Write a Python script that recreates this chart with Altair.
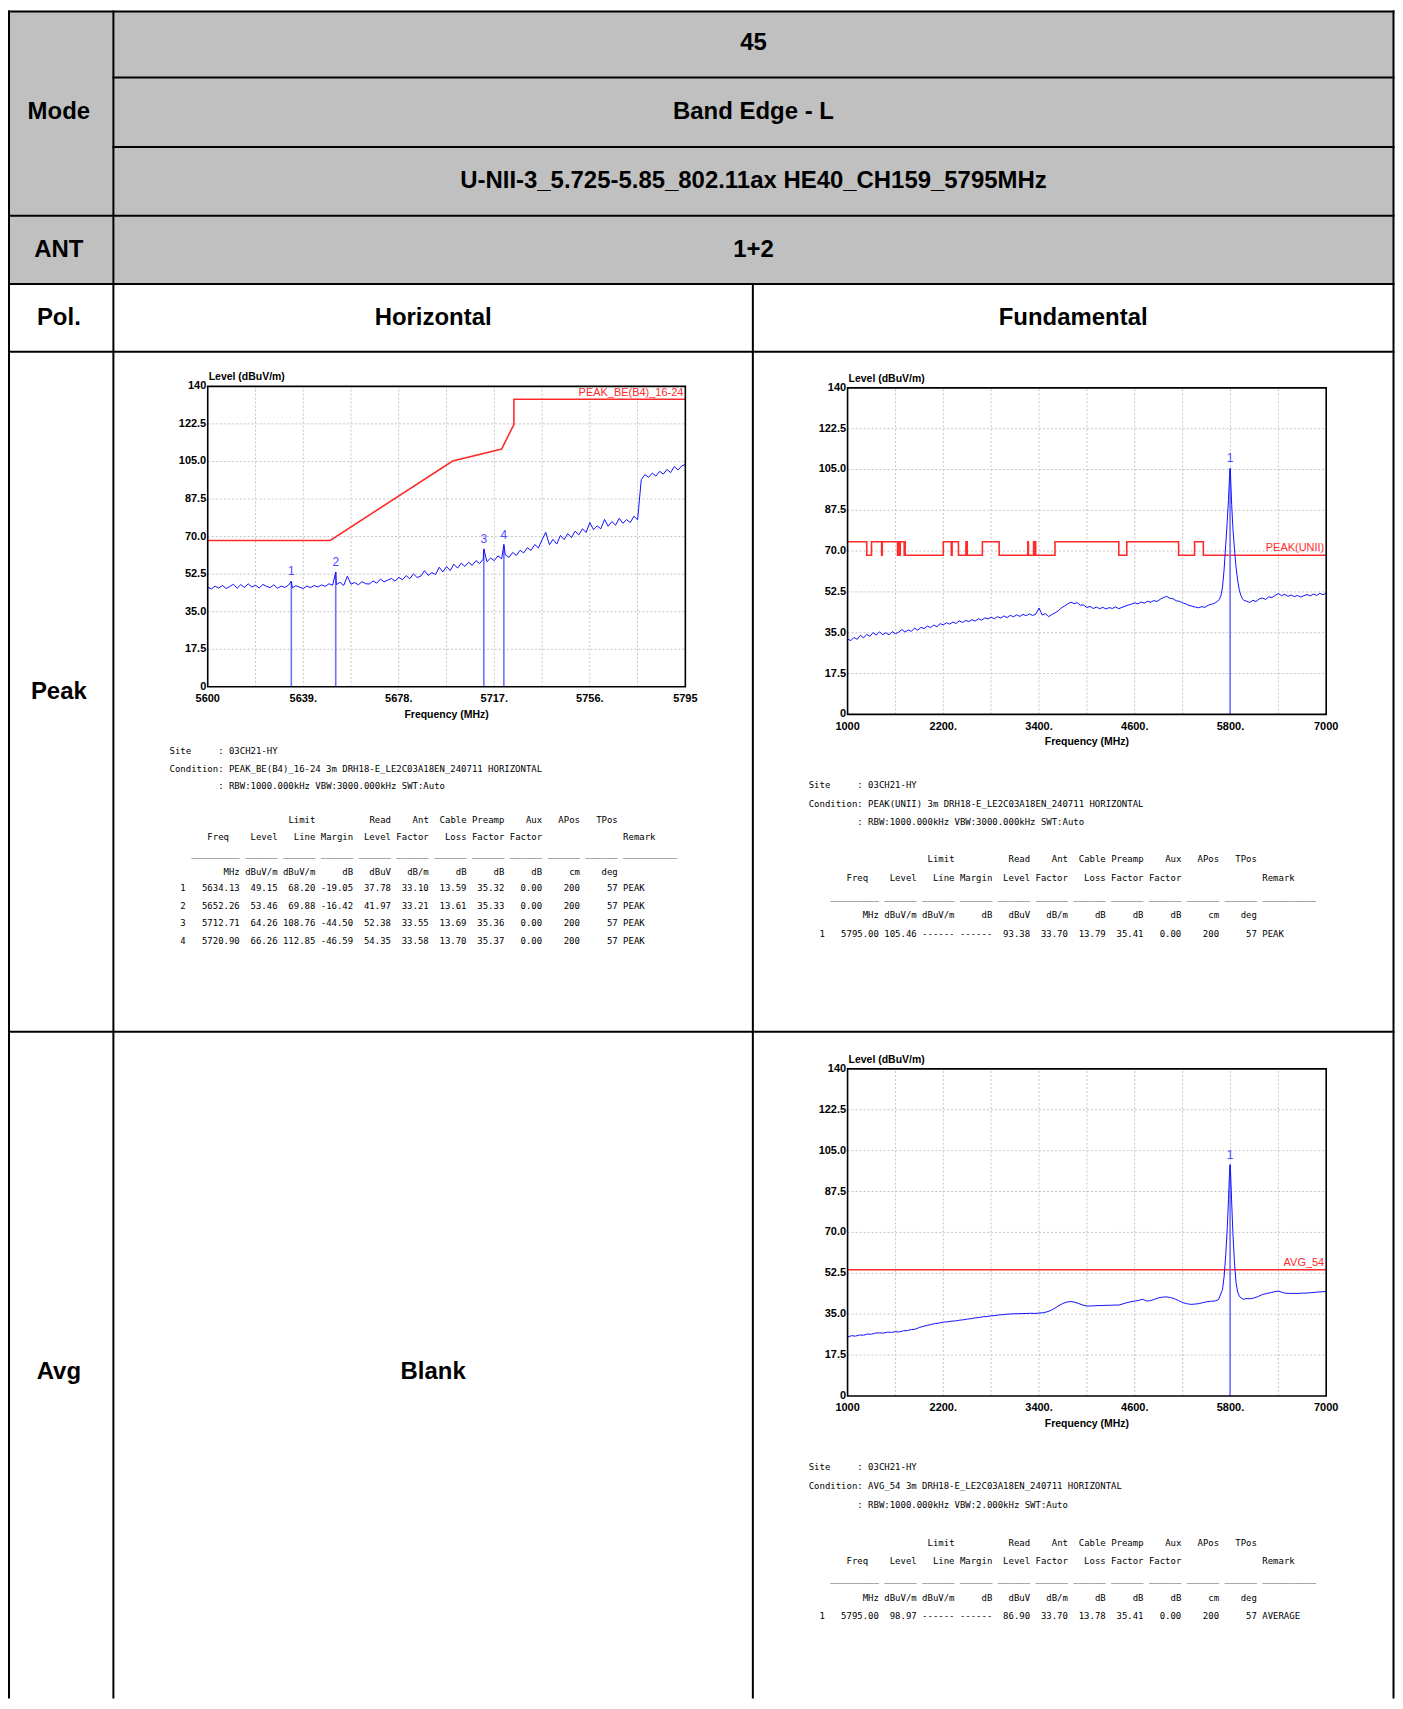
import altair as alt
import numpy as np
import pandas as pd

# ------------------------------------------------------------------ table text
mode_title = "Mode"
mode_lines = ["45", "Band Edge - L", "U-NII-3_5.725-5.85_802.11ax HE40_CH159_5795MHz"]
ant_title, ant_value = "ANT", "1+2"
pol_title = "Pol."
pol_values = ["Horizontal", "Fundamental"]
det_titles = ["Peak", "Avg"]
blank_text = "Blank"

# ------------------------------------------------------------------ axes
level_ticks = [0, 17.5, 35, 52.5, 70, 87.5, 105, 122.5, 140]
level_tick_labels = ["0", "17.5", "35.0", "52.5", "70.0", "87.5", "105.0", "122.5", "140"]

be_ticks = [5600, 5639, 5678, 5717, 5756, 5795]
be_tick_labels = ["5600", "5639.", "5678.", "5717.", "5756.", "5795"]
be_grid = [5619.5, 5639, 5658.5, 5678, 5697.5, 5717, 5736.5, 5756, 5775.5]

fd_ticks = [1000, 2200, 3400, 4600, 5800, 7000]
fd_tick_labels = ["1000", "2200.", "3400.", "4600.", "5800.", "7000"]
fd_grid = [1600, 2200, 2800, 3400, 4000, 4600, 5200, 5800, 6400]

# ------------------------------------------------------------------ plot 1 : band edge, peak, horizontal
p1_sweep_start, p1_sweep_step = 5600.0, 1.5
p1_level = [
    46.4, 45.6, 46.9, 46.0, 47.2, 45.8, 46.7, 47.8, 45.9, 47.6,
    46.3, 48.0, 46.5, 47.3, 46.0, 47.7, 46.8, 46.2, 47.5, 45.9,
    46.9, 46.3, 47.4, 46.1, 47.1, 46.4, 45.8, 46.9, 46.2, 47.2,
    46.5, 47.5, 46.8, 48.0, 47.3, 47.6, 48.7, 47.2, 51.5, 47.8,
    48.6, 47.5, 49.0, 48.0, 47.9, 49.3, 48.3, 50.2, 48.9, 49.7,
    50.5, 49.2, 51.0, 49.9, 51.8, 50.3, 52.6, 50.9, 51.6, 54.1,
    51.9, 53.2, 52.3, 55.7, 53.5, 56.0, 54.2, 57.1, 55.3, 57.6,
    56.1, 58.0, 56.6, 58.8, 57.4, 59.5, 58.3, 60.0, 58.8, 61.0,
    59.6, 61.5, 60.3, 62.6, 61.2, 63.6, 62.4, 64.8, 63.5, 66.3,
    64.7, 68.5, 72.0, 66.2, 68.7, 66.5, 70.5, 68.6, 71.4, 69.5,
    72.5, 70.8, 73.6, 71.9, 76.5, 73.2, 75.0, 73.6, 78.0, 74.8,
    77.0, 75.3, 78.5, 76.2, 77.9, 76.5, 79.5, 77.8, 96.5, 98.9,
    97.6, 99.6, 98.2, 100.4, 99.1, 101.3, 99.8, 102.6, 101.0, 102.9,
    103.6,
]
p1_limit_freq = [5600, 5650, 5700, 5720, 5725, 5725, 5795]
p1_limit_level = [68.2, 68.2, 105.2, 110.8, 122.2, 134.0, 134.0]
p1_limit_name = "PEAK_BE(B4)_16-24"

m1_idx = [1, 2, 3, 4]
m1_freq = [5634.13, 5652.26, 5712.71, 5720.90]
m1_level = [49.15, 53.46, 64.26, 66.26]
m1_limit = [68.20, 69.88, 108.76, 112.85]
m1_margin = [-19.05, -16.42, -44.50, -46.59]
m1_read = [37.78, 41.97, 52.38, 54.35]
m1_ant = [33.10, 33.21, 33.55, 33.58]
m1_cable = [13.59, 13.61, 13.69, 13.70]
m1_pre = [35.32, 35.33, 35.36, 35.37]
m1_aux = [0.00, 0.00, 0.00, 0.00]
m1_apos = [200, 200, 200, 200]
m1_tpos = [57, 57, 57, 57]
m1_remark = ["PEAK", "PEAK", "PEAK", "PEAK"]
m1_site = "03CH21-HY"
m1_cond = "PEAK_BE(B4)_16-24 3m DRH18-E_LE2C03A18EN_240711 HORIZONTAL"
m1_rbw = "RBW:1000.000kHz VBW:3000.000kHz SWT:Auto"

# ------------------------------------------------------------------ plot 2 : fundamental, peak
p2_main_start, p2_main_step = 1000, 40
p2_main_level = [
    32.4, 31.6, 33.0, 32.2, 33.9, 32.8, 34.3, 33.5, 35.1, 34.0,
    35.4, 34.2, 35.0, 34.1, 35.5, 34.6, 35.2, 36.4, 35.3, 36.2,
    35.6, 37.0, 36.1, 37.3, 36.8, 37.9, 37.2, 38.3, 37.6, 38.9,
    38.4, 39.3, 38.7, 39.6, 39.0, 40.1, 39.4, 40.3, 39.8, 40.6,
    40.0, 41.0, 40.4, 41.4, 40.9, 41.7, 41.0, 41.9, 41.3, 42.2,
    41.5, 42.5, 41.8, 42.7, 42.0, 42.9, 42.3, 43.1, 42.4, 43.0,
    45.6, 42.6, 43.2, 41.9, 42.8, 43.5, 44.4, 45.6, 46.5, 47.4,
    48.1, 47.5, 47.9, 46.8, 46.9, 45.8, 46.3, 45.4, 46.0, 45.3,
    45.9, 45.2, 45.8, 45.4, 46.1, 45.3, 45.9, 46.4, 46.9, 47.3,
    47.8, 47.4, 48.2, 47.7, 48.5, 48.1, 48.8, 48.4, 49.4, 50.1,
    50.6, 49.8, 49.6, 48.7, 48.5, 47.8, 47.4, 46.7, 46.4, 46.0,
    45.7, 46.2, 45.9, 46.8, 47.2, 47.6, 48.6,
]
p2_peak_freq = [5660, 5680, 5700, 5720, 5740, 5760, 5775, 5785, 5790, 5795, 5800,
                5805, 5815, 5830, 5850, 5870, 5890, 5910, 5930, 5950, 5970]
p2_peak_level = [49.3, 50.8, 54.5, 62.0, 72.5, 83.0, 92.0, 99.5, 103.0, 105.46, 103.5,
                 99.0, 90.0, 80.0, 71.0, 63.0, 57.5, 53.5, 51.0, 49.6, 48.8]
p2_tail_start, p2_tail_step = 6000, 40
p2_tail_level = [
    48.6, 48.0, 48.9, 48.4, 49.5, 49.9, 49.3, 50.4, 50.1, 51.0,
    51.8, 50.9, 51.5, 50.6, 51.2, 50.5, 51.0, 50.3, 50.9, 51.4,
    50.8, 51.6, 51.0, 51.9, 51.3, 52.0,
]
p2_limit_edges = [1000, 1240, 1300, 1427, 1435, 1626.5, 1645.5, 1646.5, 1660, 1710, 1718.8,
                  1722.2, 2200, 2300, 2310, 2390, 2483.5, 2500, 2690, 2900, 3260, 3267,
                  3332, 3339, 3345.8, 3358, 3600, 4400, 4500, 5150, 5350, 5460, 7000]
p2_limit_levels = [74, 68.2, 74, 68.2, 74, 68.2, 74, 68.2, 74, 68.2, 74, 68.2, 74, 68.2, 74, 68.2,
                   74, 68.2, 74, 68.2, 74, 68.2, 74, 68.2, 74, 68.2, 74, 68.2, 74, 68.2, 74, 68.2]
p2_limit_name = "PEAK(UNII)"

m2 = dict(idx=[1], freq=[5795.00], level=[105.46], limit=["------"], margin=["------"],
          read=[93.38], ant=[33.70], cable=[13.79], pre=[35.41], aux=[0.00], apos=[200],
          tpos=[57], remark=["PEAK"])
m2_cond = "PEAK(UNII) 3m DRH18-E_LE2C03A18EN_240711 HORIZONTAL"
m2_rbw = "RBW:1000.000kHz VBW:3000.000kHz SWT:Auto"

# ------------------------------------------------------------------ plot 3 : fundamental, average
p3_main_start, p3_main_step = 1000, 50
p3_main_level = [
    25.2, 25.8, 25.6, 26.1, 26.0, 26.5, 26.4, 26.9, 27.0, 26.9,
    27.3, 27.2, 27.5, 27.4, 27.9, 28.0, 28.4, 28.6, 29.3, 29.8,
    30.2, 30.6, 31.0, 31.2, 31.6, 31.7, 32.0, 32.1, 32.4, 32.6,
    32.9, 33.1, 33.4, 33.6, 33.9, 34.0, 34.3, 34.4, 34.7, 34.8,
    35.0, 35.1, 35.2, 35.2, 35.3, 35.3, 35.4, 35.3, 35.5, 35.6,
    36.0, 36.6, 37.6, 38.7, 39.6, 40.2, 40.4, 40.1, 39.5, 38.9,
    38.5, 38.5, 38.6, 38.7, 38.7, 38.8, 38.8, 38.9, 38.9, 39.4,
    39.9, 40.3, 40.6, 40.9, 41.4, 40.6, 40.8, 41.4, 42.0, 42.3,
    42.4, 42.1, 41.6, 40.8, 40.0, 39.5, 39.2, 39.3, 39.5, 39.9,
    40.3, 40.5, 40.6, 41.2,
]
p3_peak_freq = [5700, 5720, 5740, 5760, 5775, 5785, 5790, 5795, 5800, 5805, 5815,
                5830, 5850, 5870, 5890, 5910, 5930, 5950, 5970]
p3_peak_level = [45.5, 51.0, 60.0, 72.0, 84.0, 93.0, 97.0, 98.97, 97.0, 92.5, 83.0,
                 70.0, 57.0, 48.5, 44.5, 42.8, 42.0, 41.6, 41.4]
p3_tail_start, p3_tail_step = 6000, 50
p3_tail_level = [41.7, 41.6, 42.0, 42.6, 43.4, 43.8, 44.2, 44.6, 44.9, 44.3, 43.9,
                 43.9, 43.9, 43.9, 44.0, 44.0, 44.2, 44.3, 44.5, 44.6, 44.7]
p3_limit_freq = [1000, 7000]
p3_limit_level = [54, 54]
p3_limit_name = "AVG_54"

m3 = dict(idx=[1], freq=[5795.00], level=[98.97], limit=["------"], margin=["------"],
          read=[86.90], ant=[33.70], cable=[13.78], pre=[35.41], aux=[0.00], apos=[200],
          tpos=[57], remark=["AVERAGE"])
m3_cond = "AVG_54 3m DRH18-E_LE2C03A18EN_240711 HORIZONTAL"
m3_rbw = "RBW:1000.000kHz VBW:2.000kHz SWT:Auto"

# ------------------------------------------------------------------ layout (page pixels)
OFF = 8
CW, CH = 1391, 1692
T_LEFT, T_COL1, T_COL2, T_RIGHT = 9.0, 113.7, 755.0, 1397.5
T_ROWS = [9.0, 75.3, 145.0, 214.0, 282.3, 350.3, 1032.3]
T_BOTTOM = OFF + CH

BOX1 = (208.3, 687.3, 385.0, 686.3)   # left, right, top, bottom
BOX2 = (850.0, 1330.0, 386.5, 714.0)
BOX3 = (850.0, 1330.0, 1069.5, 1397.5)

HEAD_FONT = "Liberation Sans"
AX_FONT = "Liberation Sans"
MONO_FONT = "DejaVu Sans Mono"
MONO_SIZE = 9
CHAR_W = MONO_SIZE * 0.602
GRID = "#c4c4c4"
TRACE = "#1010ff"
MARK = "#7070ff"
RED = "#ff2a2a"

pxx = alt.Scale(domain=[OFF, OFF + CW], range=[0, CW], nice=False, zero=False)
pxy = alt.Scale(domain=[OFF, OFF + CH], range=[0, CH], nice=False, zero=False)


def PX(f):
    return alt.X(f, scale=pxx, axis=None)


def PY(f):
    return alt.Y(f, scale=pxy, axis=None)


# ------------------------------------------------------------------ table layer
gray = pd.DataFrame({"x0": [T_LEFT], "x1": [T_RIGHT], "y0": [T_ROWS[0]], "y1": [T_ROWS[4]]})
hl = pd.DataFrame({
    "x0": [T_LEFT, T_COL1, T_COL1, T_LEFT, T_LEFT, T_LEFT, T_LEFT],
    "x1": [T_RIGHT] * 7,
    "y": T_ROWS,
})
vl = pd.DataFrame({
    "x": [T_LEFT, T_COL1, T_COL2, T_RIGHT],
    "y0": [T_ROWS[0], T_ROWS[0], T_ROWS[4], T_ROWS[0]],
    "y1": [T_BOTTOM] * 4,
})
c_left = (4.3 + T_COL1) / 2
c_all = (T_COL1 + T_RIGHT) / 2
c_mid = (T_COL1 + T_COL2) / 2
c_right = (T_COL2 + T_RIGHT) / 2
cells = pd.DataFrame([
    (c_left, 110.2, mode_title),
    (c_all, 40.8, mode_lines[0]),
    (c_all, 110.2, mode_lines[1]),
    (c_all, 179.5, mode_lines[2]),
    (c_left, 248.2, ant_title),
    (c_all, 248.2, ant_value),
    (c_left, 316.3, pol_title),
    (c_mid, 316.3, pol_values[0]),
    (c_right, 316.3, pol_values[1]),
    (c_left, 691.3, det_titles[0]),
    (c_left, 1373.5, det_titles[1]),
    (c_mid, 1373.5, blank_text),
], columns=["x", "y", "t"])


def header_lines(cond, rbw):
    h1 = " " * 20 + f"{'Limit':>7}" + " " * 7 + "".join(
        f"{s:>7}" for s in ["Read", "Ant", "Cable", "Preamp", "Aux", "APos", "TPos"])
    h2 = f"{'Freq':>11}{'Level':>9}" + "".join(
        f"{s:>7}" for s in ["Line", "Margin", "Level", "Factor", "Loss", "Factor", "Factor"])
    h2 = h2 + " " * (84 - len(h2)) + "Remark"
    ul = "    " + "_" * 9 + (" " + "_" * 6) * 10 + " " + "_" * 10
    un = f"{'MHz':>13}" + "".join(
        f"{s:>7}" for s in ["dBuV/m", "dBuV/m", "dB", "dBuV", "dB/m", "dB", "dB", "dB", "cm", "deg"])
    return ["Site     : " + m1_site, "Condition: " + cond, "         : " + rbw, h1, h2, ul, un]


def num(v):
    return v if isinstance(v, str) else f"{v:.2f}"


def data_rows(m):
    out = []
    for k in range(len(m["idx"])):
        out.append(
            f"{m['idx'][k]:>3}{m['freq'][k]:>10.2f}{m['level'][k]:>7.2f}"
            f"{num(m['limit'][k]):>7}{num(m['margin'][k]):>7}{m['read'][k]:>7.2f}"
            f"{m['ant'][k]:>7.2f}{m['cable'][k]:>7.2f}{m['pre'][k]:>7.2f}{m['aux'][k]:>7.2f}"
            f"{m['apos'][k]:>7}{m['tpos'][k]:>7} {m['remark'][k]}")
    return out


m1 = dict(idx=m1_idx, freq=m1_freq, level=m1_level, limit=m1_limit, margin=m1_margin,
          read=m1_read, ant=m1_ant, cable=m1_cable, pre=m1_pre, aux=m1_aux,
          apos=m1_apos, tpos=m1_tpos, remark=m1_remark)

# line centres of each text block (page px)
blocks = [
    (170.0, m1_cond, m1_rbw, m1, [751, 768.5, 786, 820, 837, 860, 872], [888.4, 905.8, 923.3, 940.7]),
    (811.0, m2_cond, m2_rbw, m2, [785, 803.4, 822, 859, 877.5, 902.6, 914.6], [934.0]),
    (811.0, m3_cond, m3_rbw, m3, [1469, 1487.7, 1506.2, 1544.4, 1562.9, 1586.9, 1600], [1618.5]),
]


def mono_row(x0, base, ln):
    lead = len(ln) - len(ln.lstrip(" "))
    return (x0 + lead * CHAR_W, base, ln.strip(" ").replace(" ", "\u00a0"))


mono_rows = []
for x0, cond, rbw, m, ys, rys in blocks:
    lines = header_lines(cond, rbw)
    for j, (ln, yc) in enumerate(zip(lines, ys)):
        base = yc - 2.5 if j == 5 else yc + 3.2
        mono_rows.append(mono_row(x0, base, ln))
    for ln, yc in zip(data_rows(m), rys):
        mono_rows.append(mono_row(x0, yc + 3.2, ln))
mono = pd.DataFrame(mono_rows, columns=["x", "y", "t"])

table = alt.layer(
    alt.Chart(gray).mark_rect(color="#c0c0c0").encode(x=PX("x0:Q"), x2="x1", y=PY("y0:Q"), y2="y1"),
    alt.Chart(hl).mark_rule(color="#000000", strokeWidth=2, strokeCap="square").encode(
        x=PX("x0:Q"), x2="x1", y=PY("y:Q")),
    alt.Chart(vl).mark_rule(color="#000000", strokeWidth=2, strokeCap="square").encode(
        x=PX("x:Q"), y=PY("y0:Q"), y2="y1"),
    alt.Chart(cells).mark_text(font=HEAD_FONT, fontSize=24, fontWeight="bold", color="#000000",
                               align="center", baseline="middle").encode(
        x=PX("x:Q"), y=PY("y:Q"), text="t:N"),
    alt.Chart(mono).mark_text(font=MONO_FONT, fontSize=MONO_SIZE, color="#000000",
                              align="left", baseline="alphabetic").encode(
        x=PX("x:Q"), y=PY("y:Q"), text="t:N"),
)


# ------------------------------------------------------------------ plots
def plot_chart(box, xdom, grid, ticks, tick_labels, trace, limit, limit_interp,
               limit_name, limit_name_level, limit_name_baseline, markers):
    left, right, top, bottom = box
    xs = alt.Scale(domain=xdom, range=[left - OFF, right - OFF], nice=False, zero=False)
    ys = alt.Scale(domain=[0, 140], range=[bottom - OFF, top - OFF], nice=False, zero=False)

    def X(f):
        return alt.X(f, scale=xs, axis=None)

    def Y(f):
        return alt.Y(f, scale=ys, axis=None)

    xmin, xmax = float(xdom[0]), float(xdom[1])
    vg = pd.DataFrame({"v": grid, "lo": 0.0, "hi": 140.0})
    hg = pd.DataFrame({"v": level_ticks[1:-1], "lo": xmin, "hi": xmax})
    fr = pd.DataFrame({"x0": [xmin], "x1": [xmax], "y0": [0.0], "y1": [140.0]})
    yl = pd.DataFrame({"v": level_ticks, "x": xmin, "t": level_tick_labels})
    xl = pd.DataFrame({"v": ticks, "y": 0.0, "t": tick_labels})
    t_level = pd.DataFrame({"x": [xmin], "y": [140.0], "t": ["Level (dBuV/m)"]})
    t_freq = pd.DataFrame({"x": [(xmin + xmax) / 2], "y": [0.0], "t": ["Frequency (MHz)"]})
    mk = pd.DataFrame({"f": markers[0], "l": markers[1], "z": 0.0,
                       "lab": [str(i) for i in range(1, len(markers[0]) + 1)]})
    lname = pd.DataFrame({"x": [xmax], "y": [limit_name_level], "t": [limit_name]})

    layers = [
        alt.Chart(vg).mark_rule(color=GRID, strokeDash=[2, 2], strokeWidth=1).encode(
            x=X("v:Q"), y=Y("lo:Q"), y2="hi"),
        alt.Chart(hg).mark_rule(color=GRID, strokeDash=[2, 2], strokeWidth=1).encode(
            y=Y("v:Q"), x=X("lo:Q"), x2="hi"),
        alt.Chart(limit).mark_line(color=RED, strokeWidth=1.6, interpolate=limit_interp).encode(
            x=X("f:Q"), y=Y("l:Q"), order="i:Q"),
        alt.Chart(mk).mark_rule(color=MARK, strokeWidth=1.6).encode(x=X("f:Q"), y=Y("z:Q"), y2="l"),
        alt.Chart(trace).mark_line(color=TRACE, strokeWidth=1).encode(
            x=X("f:Q"), y=Y("l:Q"), order="i:Q"),
        alt.Chart(mk).mark_text(font=AX_FONT, fontSize=12, color="#4a4aff", baseline="bottom",
                                dy=-3).encode(x=X("f:Q"), y=Y("l:Q"), text="lab:N"),
        alt.Chart(lname).mark_text(font=AX_FONT, fontSize=11, color=RED, align="right",
                                   baseline=limit_name_baseline, dx=-2,
                                   dy=1 if limit_name_baseline == "top" else -2).encode(
            x=X("x:Q"), y=Y("y:Q"), text="t:N"),
        alt.Chart(fr).mark_rect(fillOpacity=0, stroke="#000000", strokeWidth=1.6).encode(
            x=X("x0:Q"), x2="x1", y=Y("y0:Q"), y2="y1"),
        alt.Chart(yl).mark_text(font=AX_FONT, fontSize=11, fontWeight="bold", color="#000000",
                                align="right", baseline="middle", dx=-1.5).encode(
            x=X("x:Q"), y=Y("v:Q"), text="t:N"),
        alt.Chart(xl).mark_text(font=AX_FONT, fontSize=11, fontWeight="bold", color="#000000",
                                align="center", baseline="middle", dy=12.5).encode(
            x=X("v:Q"), y=Y("y:Q"), text="t:N"),
        alt.Chart(t_level).mark_text(font=AX_FONT, fontSize=10.5, fontWeight="bold", color="#000000",
                                     align="left", baseline="middle", dx=1, dy=-9).encode(
            x=X("x:Q"), y=Y("y:Q"), text="t:N"),
        alt.Chart(t_freq).mark_text(font=AX_FONT, fontSize=10.5, fontWeight="bold", color="#000000",
                                    align="center", baseline="middle", dy=28).encode(
            x=X("x:Q"), y=Y("y:Q"), text="t:N"),
    ]
    return alt.layer(*layers)


def trace_df(freqs, levels):
    d = pd.DataFrame({"f": freqs, "l": levels}).sort_values("f", kind="stable").reset_index(drop=True)
    d["i"] = np.arange(len(d))
    return d


# plot 1 data
p1_freq = p1_sweep_start + p1_sweep_step * np.arange(len(p1_level))
tr1 = trace_df(list(p1_freq) + m1_freq, p1_level + m1_level)
lim1 = pd.DataFrame({"f": p1_limit_freq, "l": p1_limit_level, "i": np.arange(len(p1_limit_freq))})

# plot 2 data
p2_f = (list(p2_main_start + p2_main_step * np.arange(len(p2_main_level))) + p2_peak_freq
        + list(p2_tail_start + p2_tail_step * np.arange(len(p2_tail_level))))
tr2 = trace_df(p2_f, p2_main_level + p2_peak_level + p2_tail_level)
lim2 = pd.DataFrame({"f": p2_limit_edges,
                     "l": p2_limit_levels + [p2_limit_levels[-1]],
                     "i": np.arange(len(p2_limit_edges))})

# plot 3 data
p3_f = (list(p3_main_start + p3_main_step * np.arange(len(p3_main_level))) + p3_peak_freq
        + list(p3_tail_start + p3_tail_step * np.arange(len(p3_tail_level))))
tr3 = trace_df(p3_f, p3_main_level + p3_peak_level + p3_tail_level)
lim3 = pd.DataFrame({"f": p3_limit_freq, "l": p3_limit_level, "i": [0, 1]})

plot1 = plot_chart(BOX1, [5600, 5795], be_grid, be_ticks, be_tick_labels, tr1, lim1, "linear",
                   p1_limit_name, 140.0, "top", (m1_freq, m1_level))
plot2 = plot_chart(BOX2, [1000, 7000], fd_grid, fd_ticks, fd_tick_labels, tr2, lim2, "step-after",
                   p2_limit_name, 68.2, "bottom", (m2["freq"], m2["level"]))
plot3 = plot_chart(BOX3, [1000, 7000], fd_grid, fd_ticks, fd_tick_labels, tr3, lim3, "linear",
                   p3_limit_name, 54.0, "bottom", (m3["freq"], m3["level"]))

chart = alt.layer(table, plot1, plot2, plot3).resolve_scale(
    x="independent", y="independent"
).properties(
    width=CW, height=CH, padding=0, autosize=alt.AutoSizeParams(type="none"), background="white"
).configure_view(stroke=None)

chart.save("out.html", embed_options={"renderer": "svg", "actions": False})
